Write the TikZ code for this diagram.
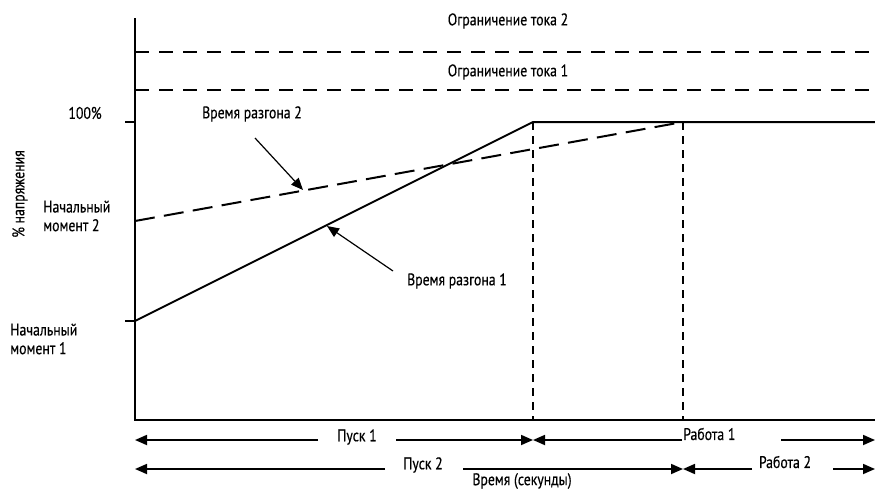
\documentclass[tikz,border=0pt]{standalone}
\usepackage{fontspec}
\setmainfont{PT Sans}[FakeStretch=0.82, FakeBold=0.4]
\usetikzlibrary{arrows.meta}
\begin{document}
\begin{tikzpicture}[x=0.75pt, y=-0.75pt,
  axis/.style={line width=2pt},
  ramp/.style={line width=1.5pt},
  limit/.style={line width=1.1pt, dash pattern=on 10.5pt off 7.5pt},
  rampdash/.style={line width=1.5pt, dash pattern=on 15pt off 7pt},
  marker/.style={line width=1.2pt, dash pattern=on 6pt off 4.5pt},
  lbl/.style={font=\fontsize{12.6pt}{14pt}\selectfont, inner sep=0pt},
  pointer/.style={line width=0.9pt, -{Triangle[length=9pt, width=7.5pt]}},
  span/.style={line width=1.3pt, -{Triangle[length=9pt, width=7.5pt]}}]
\useasboundingbox (0,0) rectangle (875,489);

% axes and ticks
\coordinate (origin) at (135,420);
\coordinate (ytop) at (135,18);
\coordinate (xend) at (875,420);
\draw[axis] (ytop) -- (origin) -- (xend);
\coordinate (t100a) at (125,122);
\coordinate (t100b) at (135,122);
\coordinate (tm1a) at (125,321);
\coordinate (tm1b) at (135,321);
\draw[axis] (t100a) -- (t100b);
\draw[axis] (tm1a) -- (tm1b);

% current limits
\coordinate (lim2a) at (135,52);
\coordinate (lim2b) at (875,52);
\coordinate (lim1a) at (135,90);
\coordinate (lim1b) at (875,90);
\draw[limit] (lim2a) -- (lim2b);
\draw[limit] (lim1a) -- (lim1b);
\node[lbl] (lim2) at (508,21) {Ограничение тока 2};
\node[lbl] (lim1) at (508,72) {Ограничение тока 1};

% voltage ramps
\coordinate (s1) at (135,321);
\coordinate (e1) at (533,122);
\coordinate (full) at (875,122);
\coordinate (s2) at (135,221);
\coordinate (e2) at (683,122);
\draw[ramp] (s1) -- (e1) -- (full);
\draw[rampdash] (s2) -- (e2);

% end of ramp markers
\coordinate (m1) at (533,420);
\coordinate (m2) at (683,420);
\draw[marker] (e1) -- (m1);
\draw[marker] (e2) -- (m2);

% axis labels
\node[lbl] (pct) at (85,113) {100\%};
\node[lbl, align=left, anchor=west] (st2) at (43,216) {Начальный\\момент 2};
\node[lbl, align=left, anchor=west] (st1) at (10,339) {Начальный\\момент 1};
\node[lbl, rotate=90] (ylab) at (20,194) {\% напряжения};

% ramp time callouts
\node[lbl] (rt2) at (252,114) {Время разгона 2};
\node[lbl] (rt1) at (457,281) {Время разгона 1};
\coordinate (p2a) at (255,138);
\coordinate (p2b) at (303,190);
\coordinate (p1a) at (393,271);
\coordinate (p1b) at (327,226);
\draw[pointer] (p2a) -- (p2b);
\draw[pointer] (p1a) -- (p1b);

% start / run spans
\coordinate (r1l) at (135,440);
\coordinate (r1m) at (533,440);
\coordinate (r1r) at (875,440);
\coordinate (g1a) at (318,440);
\coordinate (g1b) at (396,440);
\coordinate (g2a) at (682,440);
\coordinate (g2b) at (781,440);
\node[lbl] (pusk1) at (357,437) {Пуск 1};
\node[lbl, anchor=west] (rab1) at (683,434) {Работа 1};
\draw[span] (g1a) -- (r1l);
\draw[span] (g1b) -- (r1m);
\draw[span] (g2a) -- (r1m);
\draw[span] (g2b) -- (r1r);

\coordinate (r2l) at (135,469);
\coordinate (r2m) at (683,469);
\coordinate (r2r) at (875,469);
\coordinate (g3a) at (385,469);
\coordinate (g3b) at (463,469);
\coordinate (g4a) at (752,469);
\coordinate (g4b) at (833,469);
\node[lbl] (pusk2) at (423,465) {Пуск 2};
\node[lbl] (rab2) at (785,462) {Работа 2};
\draw[span] (g3a) -- (r2l);
\draw[span] (g3b) -- (r2m);
\draw[span] (g4a) -- (r2m);
\draw[span] (g4b) -- (r2r);

\node[lbl] (time) at (522,481) {Время (секунды)};
\end{tikzpicture}
\end{document}
